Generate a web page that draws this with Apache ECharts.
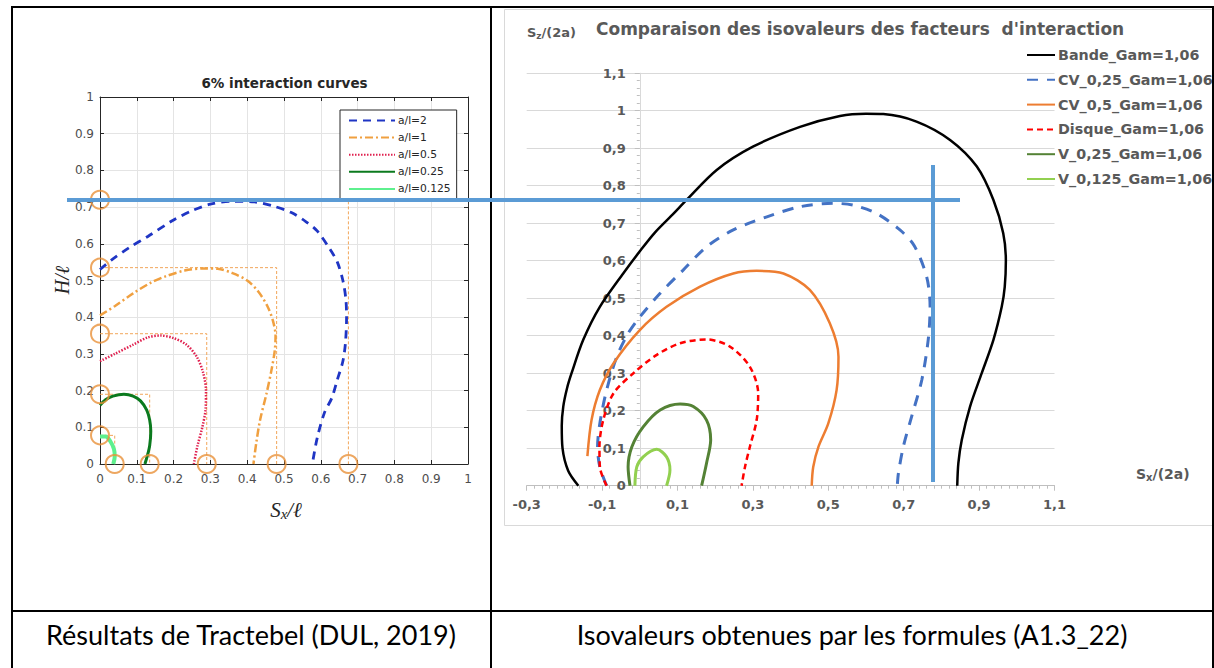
<!DOCTYPE html>
<html><head><meta charset="utf-8">
<script src="https://cdn.jsdelivr.net/npm/echarts@6/dist/echarts.min.js"></script>
<style>html,body{margin:0;padding:0;background:#fff}#c{width:1214px;height:668px}</style>
</head><body><div id="c"></div>
<script>
// ---------------- Left chart data (Tractebel, 6% interaction curves) ----------------
const leftNames = ['a/l=2', 'a/l=1', 'a/l=0.5', 'a/l=0.25', 'a/l=0.125'];
const al2 = [[0,0.53],[0.03,0.555],[0.08,0.59],[0.13,0.62],[0.2,0.665],[0.25,0.69],[0.3,0.708],[0.36,0.716],[0.42,0.714],[0.47,0.703],[0.52,0.685],[0.56,0.66],[0.59,0.635],[0.625,0.585],[0.645,0.55],[0.66,0.5],[0.668,0.45],[0.67,0.4],[0.667,0.33],[0.66,0.28],[0.645,0.23],[0.63,0.18],[0.61,0.14],[0.59,0.07],[0.577,0]];
const al1 = [[0,0.405],[0.04,0.43],[0.09,0.465],[0.14,0.495],[0.18,0.512],[0.23,0.527],[0.28,0.533],[0.32,0.532],[0.36,0.52],[0.4,0.5],[0.43,0.47],[0.455,0.43],[0.47,0.39],[0.477,0.35],[0.475,0.31],[0.466,0.256],[0.452,0.19],[0.435,0.12],[0.425,0.06],[0.417,0]];
const al05 = [[0,0.28],[0.04,0.3],[0.09,0.325],[0.13,0.345],[0.165,0.35],[0.2,0.343],[0.235,0.325],[0.263,0.292],[0.28,0.25],[0.288,0.2],[0.287,0.15],[0.278,0.1],[0.265,0.05],[0.255,0]];
const al025 = [[0,0.16],[0.015,0.175],[0.035,0.185],[0.065,0.19],[0.09,0.185],[0.11,0.172],[0.127,0.147],[0.135,0.12],[0.138,0.09],[0.135,0.05],[0.128,0.02],[0.122,0]];
const al0125 = [[0,0.075],[0.015,0.075],[0.028,0.062],[0.038,0.04],[0.04,0.02],[0.036,0]];
// reference points (orange circles): heights on H axis and abscissas on Sx axis
const refH = [0.72, 0.535, 0.355, 0.19, 0.078];
const refS = [0.675, 0.48, 0.29, 0.135, 0.04];

// ---------------- Right chart data (isovaleurs, Excel) ----------------
const rightNames = ['Bande_Gam=1,06', 'CV_0,25_Gam=1,06', 'CV_0,5_Gam=1,06', 'Disque_Gam=1,06', 'V_0,25_Gam=1,06', 'V_0,125_Gam=1,06'];
const bande = [[-0.163,0],[-0.19,0.04],[-0.205,0.1],[-0.207,0.16],[-0.203,0.211],[-0.193,0.26],[-0.181,0.3],[-0.15,0.389],[-0.106,0.477],[-0.044,0.566],[0,0.625],[0.04,0.675],[0.09,0.726],[0.124,0.762],[0.204,0.842],[0.3,0.904],[0.425,0.957],[0.531,0.986],[0.6,0.992],[0.646,0.991],[0.734,0.971],[0.823,0.922],[0.894,0.851],[0.938,0.762],[0.964,0.673],[0.971,0.6],[0.968,0.53],[0.96,0.477],[0.938,0.389],[0.907,0.3],[0.876,0.211],[0.854,0.122],[0.845,0.06],[0.842,0]];
const cv025 = [[-0.088,0],[-0.106,0.05],[-0.112,0.104],[-0.106,0.166],[-0.088,0.255],[-0.061,0.344],[-0.031,0.406],[0,0.45],[0.054,0.513],[0.115,0.575],[0.177,0.637],[0.248,0.682],[0.337,0.717],[0.425,0.744],[0.513,0.753],[0.566,0.748],[0.628,0.726],[0.69,0.682],[0.728,0.64],[0.761,0.557],[0.77,0.477],[0.765,0.389],[0.748,0.282],[0.721,0.184],[0.699,0.104],[0.686,0.033],[0.683,0]];
const cv05 = [[-0.139,0.079],[-0.128,0.175],[-0.106,0.255],[-0.07,0.326],[0,0.415],[0.071,0.477],[0.16,0.531],[0.248,0.566],[0.31,0.573],[0.381,0.566],[0.451,0.522],[0.504,0.433],[0.527,0.344],[0.522,0.255],[0.5,0.166],[0.474,0.104],[0.46,0.05],[0.456,0]];
const disque = [[-0.088,0],[-0.106,0.05],[-0.107,0.104],[-0.097,0.175],[-0.07,0.246],[-0.017,0.3],[0.045,0.349],[0.107,0.38],[0.177,0.39],[0.239,0.371],[0.292,0.317],[0.314,0.246],[0.31,0.175],[0.292,0.104],[0.279,0.05],[0.27,0]];
const v025 = [[-0.026,0],[-0.031,0.05],[-0.021,0.104],[0.009,0.157],[0.054,0.202],[0.107,0.218],[0.142,0.211],[0.177,0.175],[0.188,0.122],[0.177,0.06],[0.164,0]];
const v0125 = [[-0.013,0],[-0.008,0.05],[0.009,0.077],[0.045,0.097],[0.071,0.077],[0.08,0.042],[0.071,0]];

// ---------------- Texts ----------------
const leftTitle = '6% interaction curves';
const rightTitle = "Comparaison des isovaleurs des facteurs  d'interaction";
const captionLeft = 'Résultats de Tractebel (DUL, 2019)';
const captionRight = 'Isovaleurs obtenues par les formules (A1.3_22)';

const chart = echarts.init(document.getElementById('c'), null, {renderer: 'svg'});

const LF = 'DejaVu Sans';
const ex = '#595959';
const fmtDot = v => String(Math.round(v * 10) / 10);
const fmtComma = v => String(Math.round(v * 10) / 10).replace('.', ',');

const leftAxisCommon = {
  type: 'value', min: 0, max: 1, interval: 0.1, gridIndex: 0,
  axisLine: {show: true, onZero: false, lineStyle: {color: '#262626', width: 1}},
  axisTick: {show: true, inside: true, length: 4, lineStyle: {color: '#262626'}},
};

const leftLine = (name, data, color, width, type) => ({
  name, type: 'line', xAxisIndex: 0, yAxisIndex: 0, data, smooth: 0.3,
  symbol: 'none', lineStyle: {color, width, type}, itemStyle: {color}, z: 4
});
const rightLine = (name, data, color, width, type) => ({
  name, type: 'line', xAxisIndex: 2, yAxisIndex: 2, data, smooth: 0.3,
  symbol: 'none', lineStyle: {color, width, type, cap: 'butt'}, itemStyle: {color}, z: 4
});

const rectSeries = refH.map((h, i) => ({
  type: 'line', xAxisIndex: 0, yAxisIndex: 0, symbol: 'none', silent: true,
  data: [[0, h], [refS[i], h], [refS[i], 0]],
  lineStyle: {color: '#f2a65a', width: 1, type: [3, 2]}, z: 3
}));
const circleData = refH.map(h => [0, h]).concat(refS.map(s => [s, 0]));

const option = {
  backgroundColor: '#ffffff',
  animation: false,
  grid: [
    {left: 100, top: 97, width: 368, height: 367},
    {left: 526.7, top: 73.2, width: 527.8, height: 412.5}
  ],
  xAxis: [
    Object.assign({}, leftAxisCommon, {position: 'bottom',
      axisLabel: {color: '#4d4d4d', fontFamily: LF, fontSize: 12, margin: 9, formatter: fmtDot},
      splitLine: {show: true, lineStyle: {color: '#e4e4e4', width: 1}}}),
    Object.assign({}, leftAxisCommon, {position: 'top', axisLabel: {show: false}, splitLine: {show: false}}),
    {type: 'value', gridIndex: 1, min: -0.3, max: 1.1, interval: 0.2,
      axisLine: {show: true, onZero: false, lineStyle: {color: '#bfbfbf', width: 1}},
      axisTick: {show: true, length: 5, lineStyle: {color: '#bfbfbf'}},
      minorTick: {show: true, splitNumber: 10, length: 3, lineStyle: {color: '#bfbfbf'}},
      axisLabel: {color: ex, fontFamily: LF, fontWeight: 'bold', fontSize: 13, margin: 12, formatter: fmtComma},
      splitLine: {show: false}}
  ],
  yAxis: [
    Object.assign({}, leftAxisCommon, {position: 'left',
      axisLabel: {color: '#4d4d4d', fontFamily: LF, fontSize: 12, margin: 6, formatter: fmtDot},
      splitLine: {show: true, lineStyle: {color: '#e4e4e4', width: 1}}}),
    Object.assign({}, leftAxisCommon, {position: 'right', axisLabel: {show: false}, splitLine: {show: false}}),
    {type: 'value', gridIndex: 1, min: 0, max: 1.1, interval: 0.1, position: 'left', offset: -113.1,
      axisLine: {show: true, onZero: false, lineStyle: {color: '#d9d9d9', width: 1}},
      axisTick: {show: true, length: 5, lineStyle: {color: '#bfbfbf'}},
      minorTick: {show: true, splitNumber: 5, length: 3, lineStyle: {color: '#bfbfbf'}},
      axisLabel: {color: ex, fontFamily: LF, fontWeight: 'bold', fontSize: 13, margin: 14, formatter: fmtComma},
      splitLine: {show: true, lineStyle: {color: '#d9d9d9', width: 1}}}
  ],
  legend: [
    {data: leftNames, left: 340, top: 110, orient: 'vertical',
      backgroundColor: '#ffffff', borderColor: '#262626', borderWidth: 1, borderRadius: 0,
      padding: [5, 6, 5, 8], itemWidth: 46, itemHeight: 10, itemGap: 6.1,
      itemStyle: {opacity: 0},
      textStyle: {color: '#262626', fontFamily: LF, fontSize: 10.7, padding: [0, 0, 0, -2]},
      selectedMode: false},
    {data: rightNames, left: 1026, top: 48, orient: 'vertical',
      itemWidth: 28, itemHeight: 14, itemGap: 10.8, padding: 0,
      itemStyle: {opacity: 0},
      textStyle: {color: ex, fontFamily: LF, fontWeight: 'bold', fontSize: 14.3, padding: [0, 0, 0, -2]},
      selectedMode: false}
  ],
  series: [
    ...rectSeries,
    leftLine(leftNames[0], al2, '#1f35c4', 2.8, [8, 6]),
    leftLine(leftNames[1], al1, '#f0a040', 2.5, [8, 3, 2, 3]),
    leftLine(leftNames[2], al05, '#e0204f', 2.5, [1.5, 1.5]),
    leftLine(leftNames[3], al025, '#0b7a1e', 3, 'solid'),
    leftLine(leftNames[4], al0125, '#5ef08e', 4, 'solid'),
    {type: 'scatter', xAxisIndex: 0, yAxisIndex: 0, data: circleData, symbol: 'circle', symbolSize: 18,
      clip: false, silent: true, z: 5,
      itemStyle: {color: 'rgba(0,0,0,0)', borderColor: '#e8913a', borderWidth: 2}},
    rightLine(rightNames[0], bande, '#000000', 2.5, 'solid'),
    rightLine(rightNames[1], cv025, '#4472c4', 3, [11, 9]),
    rightLine(rightNames[2], cv05, '#ed7d31', 2.5, 'solid'),
    rightLine(rightNames[3], disque, '#ff0000', 2.5, [6, 4]),
    rightLine(rightNames[4], v025, '#548235', 3, 'solid'),
    rightLine(rightNames[5], v0125, '#92d050', 3, 'solid')
  ],
  graphic: [
    // Excel chart area border
    {type: 'rect', shape: {x: 504.5, y: 9.5, width: 708, height: 516}, style: {fill: 'none', stroke: '#d9d9d9', lineWidth: 1}, z: 0, silent: true},
    // table borders
    {type: 'line', shape: {x1: 11, y1: 7, x2: 1214, y2: 7}, style: {stroke: '#000', lineWidth: 2}, z: 50},
    {type: 'line', shape: {x1: 12, y1: 6, x2: 12, y2: 668}, style: {stroke: '#000', lineWidth: 2}, z: 50},
    {type: 'line', shape: {x1: 491, y1: 6, x2: 491, y2: 668}, style: {stroke: '#000', lineWidth: 2}, z: 50},
    {type: 'line', shape: {x1: 1213, y1: 6, x2: 1213, y2: 668}, style: {stroke: '#000', lineWidth: 2}, z: 50},
    {type: 'line', shape: {x1: 11, y1: 611, x2: 1214, y2: 611}, style: {stroke: '#000', lineWidth: 2}, z: 50},
    // titles and axis names
    {type: 'text', x: 284.5, y: 83, style: {text: leftTitle, fill: '#262626', font: 'bold 13.5px "DejaVu Sans"', textAlign: 'center', textVerticalAlign: 'middle'}},
    {type: 'text', x: 286, y: 510, style: {
      text: '{i|S}{s|x}{i|/ℓ}', textAlign: 'center', textVerticalAlign: 'middle',
      rich: {i: {fontFamily: 'Liberation Serif', fontStyle: 'italic', fontSize: 21, fill: '#262626', lineHeight: 22},
             s: {fontFamily: 'Liberation Serif', fontStyle: 'italic', fontSize: 15, fill: '#262626', lineHeight: 12, verticalAlign: 'bottom'}}}},
    {type: 'text', x: 62, y: 280, rotation: Math.PI / 2, style: {
      text: 'H/ℓ', fill: '#262626', font: 'italic 20px "Liberation Serif"', textAlign: 'center', textVerticalAlign: 'middle'}},
    {type: 'text', x: 596, y: 29, style: {text: rightTitle, fill: ex, font: 'bold 17px "DejaVu Sans"', textAlign: 'left', textVerticalAlign: 'middle'}},
    {type: 'text', x: 527, y: 32, style: {
      text: '{b|S}{s|z}{b|/(2a)}', textAlign: 'left', textVerticalAlign: 'middle',
      rich: {b: {fontFamily: LF, fontWeight: 'bold', fontSize: 13, fill: ex, lineHeight: 16},
             s: {fontFamily: LF, fontWeight: 'bold', fontSize: 9, fill: ex, lineHeight: 8, verticalAlign: 'bottom'}}}},
    {type: 'text', x: 1136, y: 474, style: {
      text: '{b|S}{s|x}{b|/(2a)}', textAlign: 'left', textVerticalAlign: 'middle',
      rich: {b: {fontFamily: LF, fontWeight: 'bold', fontSize: 14, fill: ex, lineHeight: 16},
             s: {fontFamily: LF, fontWeight: 'bold', fontSize: 10, fill: ex, lineHeight: 8, verticalAlign: 'bottom'}}}},
    // captions
    {type: 'text', x: 251, y: 634, style: {text: captionLeft, fill: '#000', font: '27px "Lato"', textAlign: 'center', textVerticalAlign: 'middle'}},
    {type: 'text', x: 852, y: 634, style: {text: captionRight, fill: '#000', font: '27px "Lato"', textAlign: 'center', textVerticalAlign: 'middle'}},
    // hand-drawn blue annotation lines over both charts
    {type: 'line', shape: {x1: 67, y1: 200, x2: 960, y2: 200}, style: {stroke: '#5b9bd5', lineWidth: 4}, z: 60},
    {type: 'line', shape: {x1: 933, y1: 165, x2: 933, y2: 482}, style: {stroke: '#5b9bd5', lineWidth: 4}, z: 60}
  ]
};
chart.setOption(option);
</script></body></html>
